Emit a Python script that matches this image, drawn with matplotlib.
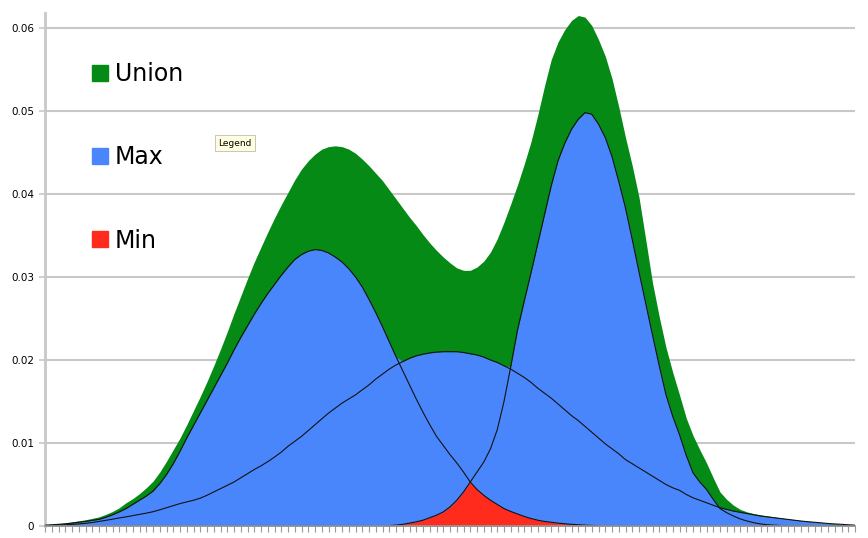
import numpy as np
import matplotlib
matplotlib.use("Agg")
import matplotlib.pyplot as plt
from matplotlib.patches import Patch

# x positions: 121 category slots
x = np.arange(0, 121)

# values below are in thousandths
# left narrow peak
left = [0.1, 0.15, 0.2, 0.27, 0.35, 0.45, 0.55, 0.68, 0.8, 1.05,
        1.35, 1.7, 2.1, 2.6, 3.1, 3.6, 4.2, 5.1, 6.2, 7.5,
        9.0, 10.6, 12.1, 13.6, 15.1, 16.6, 18.1, 19.6, 21.2, 22.7,
        24.1, 25.5, 26.8, 28.0, 29.1, 30.2, 31.2, 32.1, 32.7, 33.1,
        33.3, 33.2, 32.9, 32.4, 31.8, 31.0, 30.0, 28.8, 27.3, 25.7,
        24.0, 22.2, 20.4, 18.7, 17.0, 15.3, 13.7, 12.2, 10.8, 9.7,
        8.6, 7.6, 6.5, 5.3, 4.4, 3.7, 3.1, 2.6, 2.1, 1.75,
        1.45, 1.15, 0.9, 0.7, 0.55, 0.45, 0.35, 0.27, 0.2, 0.15,
        0.1, 0.07, 0.04, 0, 0, 0, 0, 0, 0, 0,
        0, 0, 0, 0, 0, 0, 0, 0, 0, 0,
        0, 0, 0, 0, 0, 0, 0, 0, 0, 0,
        0, 0, 0, 0, 0, 0, 0, 0, 0, 0, 0]

# wide middle curve
wide = [0.05, 0.07, 0.1, 0.14, 0.2, 0.25, 0.32, 0.42, 0.55, 0.68,
        0.82, 0.97, 1.1, 1.25, 1.4, 1.55, 1.72, 1.95, 2.2, 2.45,
        2.7, 2.9, 3.1, 3.35, 3.7, 4.1, 4.5, 4.9, 5.3, 5.8,
        6.3, 6.8, 7.25, 7.75, 8.3, 8.9, 9.6, 10.2, 10.8, 11.5,
        12.2, 12.9, 13.6, 14.2, 14.8, 15.3, 15.8, 16.4, 17.0, 17.7,
        18.3, 18.9, 19.4, 19.8, 20.2, 20.5, 20.7, 20.85, 20.95, 21.0,
        21.0, 21.0, 20.9, 20.75, 20.6, 20.35, 20.0, 19.7, 19.3, 18.9,
        18.4, 17.9, 17.3, 16.6, 16.0, 15.4, 14.7, 14.0, 13.3, 12.7,
        12.0, 11.3, 10.6, 9.9, 9.3, 8.7, 8.0, 7.5, 7.0, 6.5,
        6.0, 5.5, 5.0, 4.6, 4.3, 3.8, 3.4, 3.1, 2.8, 2.5,
        2.2, 2.0, 1.8, 1.65, 1.5, 1.35, 1.2, 1.1, 1.0, 0.9,
        0.8, 0.7, 0.6, 0.52, 0.45, 0.38, 0.3, 0.25, 0.2, 0.15, 0.1]

# right narrow peak
right = [0, 0, 0, 0, 0, 0, 0, 0, 0, 0,
         0, 0, 0, 0, 0, 0, 0, 0, 0, 0,
         0, 0, 0, 0, 0, 0, 0, 0, 0, 0,
         0, 0, 0, 0, 0, 0, 0, 0, 0, 0,
         0, 0, 0, 0, 0, 0, 0, 0, 0, 0,
         0, 0.05, 0.1, 0.2, 0.35, 0.5, 0.7, 1.0, 1.3, 1.7,
         2.3, 3.1, 4.1, 5.3, 6.5, 7.7, 9.3, 11.6, 15.0, 19.2,
         23.6, 27.1, 30.5, 34.0, 37.5, 41.0, 44.0, 46.1, 47.8, 49.0,
         49.8, 49.6, 48.4, 46.8, 44.5, 41.5, 38.3, 34.5, 30.6, 26.8,
         23.0, 19.3, 15.8, 13.2, 11.0, 8.5, 6.4, 5.3, 4.4, 3.2,
         2.1, 1.6, 1.2, 0.85, 0.6, 0.4, 0.25, 0.15, 0.1, 0.06,
         0.03, 0, 0, 0, 0, 0, 0, 0, 0, 0, 0]

# union envelope
union = [0.1, 0.15, 0.25, 0.35, 0.5, 0.62, 0.75, 0.92, 1.1, 1.4,
         1.75, 2.2, 2.8, 3.3, 3.9, 4.6, 5.4, 6.5, 7.8, 9.2,
         10.6, 12.2, 13.9, 15.6, 17.4, 19.3, 21.3, 23.4, 25.6, 27.7,
         29.8, 31.8, 33.6, 35.4, 37.1, 38.7, 40.2, 41.7, 43.0, 44.0,
         44.8, 45.4, 45.7, 45.8, 45.7, 45.4, 44.9, 44.2, 43.4, 42.5,
         41.6, 40.5, 39.4, 38.3, 37.2, 36.2, 35.1, 34.1, 33.2, 32.4,
         31.7, 31.1, 30.8, 30.8, 31.2, 31.9, 33.0, 34.6, 36.6, 38.8,
         41.1, 43.6, 46.3, 49.5, 53.0, 56.2, 58.3, 59.8, 60.9, 61.5,
         61.3, 60.3, 58.6, 56.6, 53.9, 50.5, 46.8, 43.4, 39.6, 34.5,
         29.3, 25.2, 21.5, 18.5, 15.8, 13.0, 10.9, 9.2, 7.6, 5.8,
         4.1, 3.2, 2.5, 2.0, 1.7, 1.5, 1.35, 1.22, 1.1, 0.98,
         0.87, 0.76, 0.66, 0.57, 0.48, 0.4, 0.32, 0.26, 0.2, 0.15, 0.1]

yticks = [0, 0.01, 0.02, 0.03, 0.04, 0.05, 0.06]
ytick_labels = ["0", "0.01", "0.02", "0.03", "0.04", "0.05", "0.06"]

left = np.array(left) / 1000
wide = np.array(wide) / 1000
right = np.array(right) / 1000
union = np.array(union) / 1000

GREEN = "#048a15"
BLUE = "#4a86fb"
RED = "#ff2b1c"
GRID = "#c8c8c8"

fig = plt.figure(figsize=(8.68, 5.38), dpi=100)
ax = fig.add_axes([45 / 868, 12 / 538, 810 / 868, 513 / 538])

ax.fill_between(x, 0, union, color=GREEN, lw=0, zorder=2)
ax.fill_between(x, 0, np.maximum(np.maximum(left, wide), right), color=BLUE, lw=0, zorder=3)
ax.fill_between(x, 0, np.minimum(left, right), color=RED, lw=0, zorder=4)

for ys in (left, wide, right):
    ax.plot(x, ys, color="#111111", lw=0.8, zorder=5)

ax.set_xlim(0, 120)
ax.set_ylim(0, 0.0618)

ax.set_yticks(yticks)
ax.set_yticklabels(ytick_labels, fontsize=7.5)
ax.set_xticks(x)
ax.set_xticklabels([])
ax.tick_params(axis="x", length=4, width=0.8, color="#999999", direction="out")
ax.tick_params(axis="y", length=4, width=1.2, color=GRID, pad=4)

ax.grid(axis="y", color=GRID, lw=1.5, zorder=0)
ax.set_axisbelow(True)
for s in ("top", "right"):
    ax.spines[s].set_visible(False)
ax.spines["left"].set_color(GRID)
ax.spines["left"].set_linewidth(2)
ax.spines["bottom"].set_color("#999999")
ax.spines["bottom"].set_linewidth(1.2)
ax.spines["bottom"].set_zorder(6)

handles = [Patch(color=GREEN), Patch(color=BLUE), Patch(color=RED)]
ax.legend(handles, ["Union", "Max", "Min"], loc="upper left",
          bbox_to_anchor=(38 / 810, 1 - 40 / 513), frameon=False,
          fontsize=17, handlelength=0.65, handleheight=0.65,
          handletextpad=0.3, labelspacing=2.5, borderaxespad=0)

# the hover tooltip shown in the original screenshot
fig.text(218 / 868, 1 - 143 / 538, "Legend", fontsize=6.5, va="center", ha="left",
         bbox=dict(boxstyle="square,pad=0.35", fc="#ffffe0", ec="#bbbbbb", lw=0.6))

fig.savefig("out.png", dpi=100)
